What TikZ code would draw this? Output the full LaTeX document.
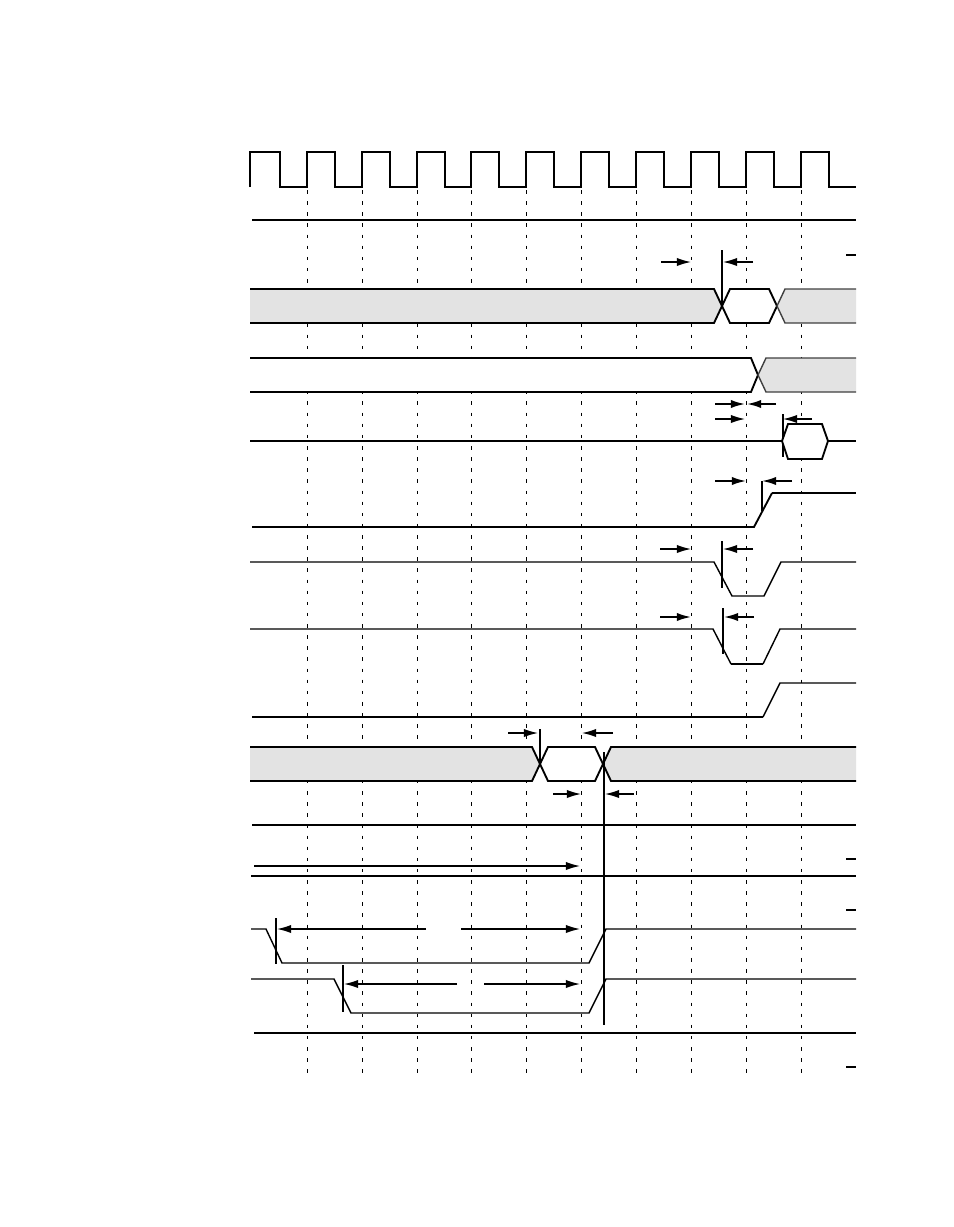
\documentclass[tikz,border=0pt]{standalone}
\usepackage{tikz}
\usetikzlibrary{arrows.meta}

\begin{document}
\begin{tikzpicture}[x=0.03cm,y=-0.03cm,
  wave/.style={line width=1.6pt},
  lwave/.style={line width=1.2pt},
  busgray/.style={fill=black!11},
  clkgrid/.style={line width=0.8pt,dash pattern=on 3pt off 6.5pt},
  tarr/.style={-{Latex[length=12pt,width=7pt]},line width=1.1pt},
  marker/.style={line width=1.1pt}]
\useasboundingbox (0,0) rectangle (954,1227);

% grid at the rising clock edges
\foreach \x in {307,362,417,471,526,581,636,691,746,801}
  \draw[clkgrid] (\x,190) -- (\x,1073);

% clock
\draw[wave] (250,187) -- (250,152) -- (280,152) -- (280,187)
  \foreach \x in {307,362,417,471,526,581,636,691,746,801}
    { -- (\x,187) -- (\x,152) -- (\x+28,152) -- (\x+28,187) } -- (856,187);

\draw[wave] (252,220) -- (856,220);
\draw[wave] (846,255) -- (856,255);

% first bus
\draw[tarr] (661,262) -- (691,262);
\draw[tarr] (753,262) -- (723,262);
\filldraw[wave,busgray] (250,289) -- (714,289) -- (722,306) coordinate (x_1) -- (714,323) -- (250,323);
\filldraw[wave,fill=white] (x_1) -- (730,289) -- (769,289) -- (777,306) coordinate (x_2) -- (769,323) -- (730,323) -- cycle;
\filldraw[lwave,busgray,draw=black!75] (856,289) -- (785,289) -- (x_2) -- (785,323) -- (856,323);
\draw[marker] (722,250) -- (x_1);

% second bus
\filldraw[wave,fill=white] (250,358) -- (751,358) -- (758,375) coordinate (x_3) -- (751,392) -- (250,392);
\filldraw[lwave,busgray,draw=black!75] (856,358) -- (766,358) -- (x_3) -- (766,392) -- (856,392);

\draw[tarr,line width=1.5pt] (715,404) -- (745,404);
\draw[tarr,line width=1.5pt] (776,404) -- (747,404);
\draw[tarr] (715,419) -- (745,419);
\draw[tarr] (812,419) -- (783,419);
\draw[marker] (783,414) -- (783,457);

% line with short valid window
\draw[wave] (250,441) -- (782,441) coordinate (h_1);
\filldraw[wave,fill=white] (h_1) -- (788,424) -- (822,424) -- (828,441) coordinate (h_2) -- (822,459) -- (788,459) -- cycle;
\draw[wave] (h_2) -- (856,441);

% rising signal
\draw[tarr,line width=1.5pt] (715,481) -- (746,481);
\draw[tarr,line width=1.5pt] (792,481) -- (762,481);
\draw[marker] (762,481) -- (762,511);
\draw[wave] (252,527) -- (754,527) -- (772,493);
\draw[lwave] (772,493) -- (856,493);

% two strobes
\draw[tarr] (660,549) -- (691,549);
\draw[tarr] (753,549) -- (723,549);
\draw[marker] (722,541) -- (722,588);
\draw[lwave] (250,562) -- (714,562) -- (732,596) -- (764,596) -- (781,562) -- (856,562);

\draw[tarr,line width=1.5pt] (660,617) -- (691,617);
\draw[tarr,line width=1.5pt] (754,617) -- (724,617);
\draw[marker] (723,608) -- (723,654);
\draw[lwave] (250,629) -- (713,629) -- (731,664);
\draw[wave] (731,664) -- (763,664);
\draw[lwave] (763,664) -- (780,629) -- (856,629);

\draw[wave] (252,717) -- (763,717);
\draw[lwave] (763,717) -- (780,683) -- (856,683);

% third bus
\draw[tarr] (508,733) -- (538,733);
\draw[tarr] (613,733) -- (582,733);
\filldraw[wave,busgray] (250,747) -- (532,747) -- (540,764) coordinate (x_4) -- (532,781) -- (250,781);
\filldraw[wave,fill=white] (x_4) -- (548,747) -- (595,747) -- (603,764) coordinate (x_5) -- (595,781) -- (548,781) -- cycle;
\filldraw[wave,busgray] (856,747) -- (611,747) -- (x_5) -- (611,781) -- (856,781);
\draw[marker] (540,729) -- (x_4);
\draw[tarr] (553,794) -- (581,794);
\draw[tarr] (634,794) -- (605,794);
\draw[marker] (604,752) -- (604,1025);

\draw[wave] (252,825) -- (856,825);
\draw[lwave] (846,859) -- (856,859);
\draw[tarr] (254,866) -- (580,866);
\draw[lwave] (251,876) -- (856,876);
\draw[lwave] (846,910) -- (856,910);

% two selects
\draw[lwave] (251,929) -- (266,929) -- (282,963) -- (589,963) -- (606,929) -- (856,929);
\draw[marker] (276,918) -- (276,964);
\draw[tarr] (426,929) -- (277,929);
\draw[tarr] (461,929) -- (580,929);

\draw[lwave] (251,979) -- (334,979) -- (351,1013) -- (589,1013) -- (606,979) -- (856,979);
\draw[marker] (343,965) -- (343,1012);
\draw[tarr] (457,984) -- (344,984);
\draw[tarr] (484,984) -- (580,984);

\draw[wave] (254,1033) -- (856,1033);
\draw[wave] (846,1067) -- (856,1067);
\end{tikzpicture}
\end{document}
